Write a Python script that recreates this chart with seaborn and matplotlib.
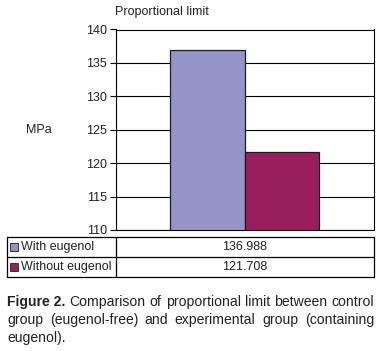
import matplotlib
matplotlib.use("Agg")
import matplotlib.pyplot as plt
import seaborn as sns
import pandas as pd
from matplotlib.patches import Rectangle

# ---- data ----
groups = ["With eugenol", "Without eugenol"]
values = [136.988, 121.708]
colors = ["#9494C8", "#9A1D5E"]
yticks = [110, 115, 120, 125, 130, 135, 140]
chart_title = "Proportional limit"
y_label = "MPa"
caption_bold = "Figure 2."
caption_lines = [
    "Comparison of proportional limit between control",
    "group (eugenol-free) and experimental group (containing",
    "eugenol).",
]

sns.set_style("white")
plt.rcParams["font.family"] = ["Liberation Sans", "DejaVu Sans"]

W, H = 381, 351
fig = plt.figure(figsize=(W / 100, H / 100), dpi=100)
FS = 9.0

def fx(px):
    return px / W

def fy(py):
    return 1 - py / H

# ---- main axes ----
L, R, T, B = 115.5, 374, 29.5, 230
ax = fig.add_axes([fx(L), fy(B), fx(R - L), (B - T) / H])
df = pd.DataFrame({"cat": ["x", "x"], "group": groups, "MPa": values})
sns.barplot(data=df, x="cat", y="MPa", hue="group", palette=colors,
            saturation=1, width=0.576, edgecolor="#1b1b2a", linewidth=0.9,
            legend=False, ax=ax, zorder=3)
ax.set_ylim(110, 140)
ax.set_xlim(-0.5, 0.5)
ax.set_yticks(yticks)
ax.set_yticklabels([str(t) for t in yticks], fontsize=FS, color="#222222")
ax.set_xticks([])
ax.set_xlabel("")
ax.set_ylabel("")
for t in yticks:
    ax.axhline(t, color="black", linewidth=0.8, zorder=1)
for s in ax.spines.values():
    s.set_visible(True)
    s.set_color("black")
    s.set_linewidth(0.8)
ax.tick_params(axis="y", direction="out", length=4, width=0.8, pad=2,
               left=True, color="black")

fig.text(fx(115), fy(12.5), chart_title, fontsize=FS, ha="left", va="center",
         color="#222222")
fig.text(fx(26), fy(130), y_label, fontsize=FS, ha="left", va="center",
         color="#222222")

# ---- data table ----
TL, TR, TT, TB = 7, 374, 237, 277
tax = fig.add_axes([fx(TL), fy(TB), fx(TR - TL), (TB - TT) / H])
tax.set_xlim(TL, TR)
tax.set_ylim(TB, TT)
tax.axis("off")
lw = 0.9
tax.plot([TL, TR, TR, TL, TL], [TT, TT, TB, TB, TT], color="black", lw=lw,
         clip_on=False)
mid = (TT + TB) / 2
tax.plot([TL, TR], [mid, mid], color="black", lw=lw)
tax.plot([115.5, 115.5], [TT, TB], color="black", lw=lw)
rows_y = [(TT + mid) / 2, (mid + TB) / 2]
for g, v, c, yy in zip(groups, values, colors, rows_y):
    tax.add_patch(Rectangle((10, yy - 4), 8, 8, facecolor=c,
                            edgecolor="#333333", lw=0.7))
    tax.text(21, yy, g, fontsize=FS, ha="left", va="center", color="#222222")
    tax.text((115.5 + TR) / 2, yy, f"{v:.3f}", fontsize=FS, ha="center",
             va="center", color="#222222")

# ---- caption (justified) ----
cap_fs = 10.1
renderer = fig.canvas.get_renderer()
line_y = [302, 320, 338]
x0, x1 = 7, 374

def word_width(txt, weight):
    t = fig.text(0, 0, txt, fontsize=cap_fs, fontweight=weight)
    bb = t.get_window_extent(renderer=renderer)
    t.remove()
    return bb.width

line_words = [
    [(caption_bold, "bold")] + [(w, "normal") for w in caption_lines[0].split()],
    [(w, "normal") for w in caption_lines[1].split()],
    [(w, "normal") for w in caption_lines[2].split()],
]
for i, (words, yy) in enumerate(zip(line_words, line_y)):
    widths = [word_width(w, wt) for w, wt in words]
    justify = i < len(line_words) - 1 and len(words) > 1
    if justify:
        gap = ((x1 - x0) - sum(widths)) / (len(words) - 1)
    else:
        gap = word_width("a b", "normal") - word_width("ab", "normal")
    x = x0
    for (w, wt), wd in zip(words, widths):
        fig.text(fx(x), fy(yy), w, fontsize=cap_fs, fontweight=wt,
                 ha="left", va="center", color="#222222")
        x += wd + gap

fig.savefig("out.png", dpi=100)
